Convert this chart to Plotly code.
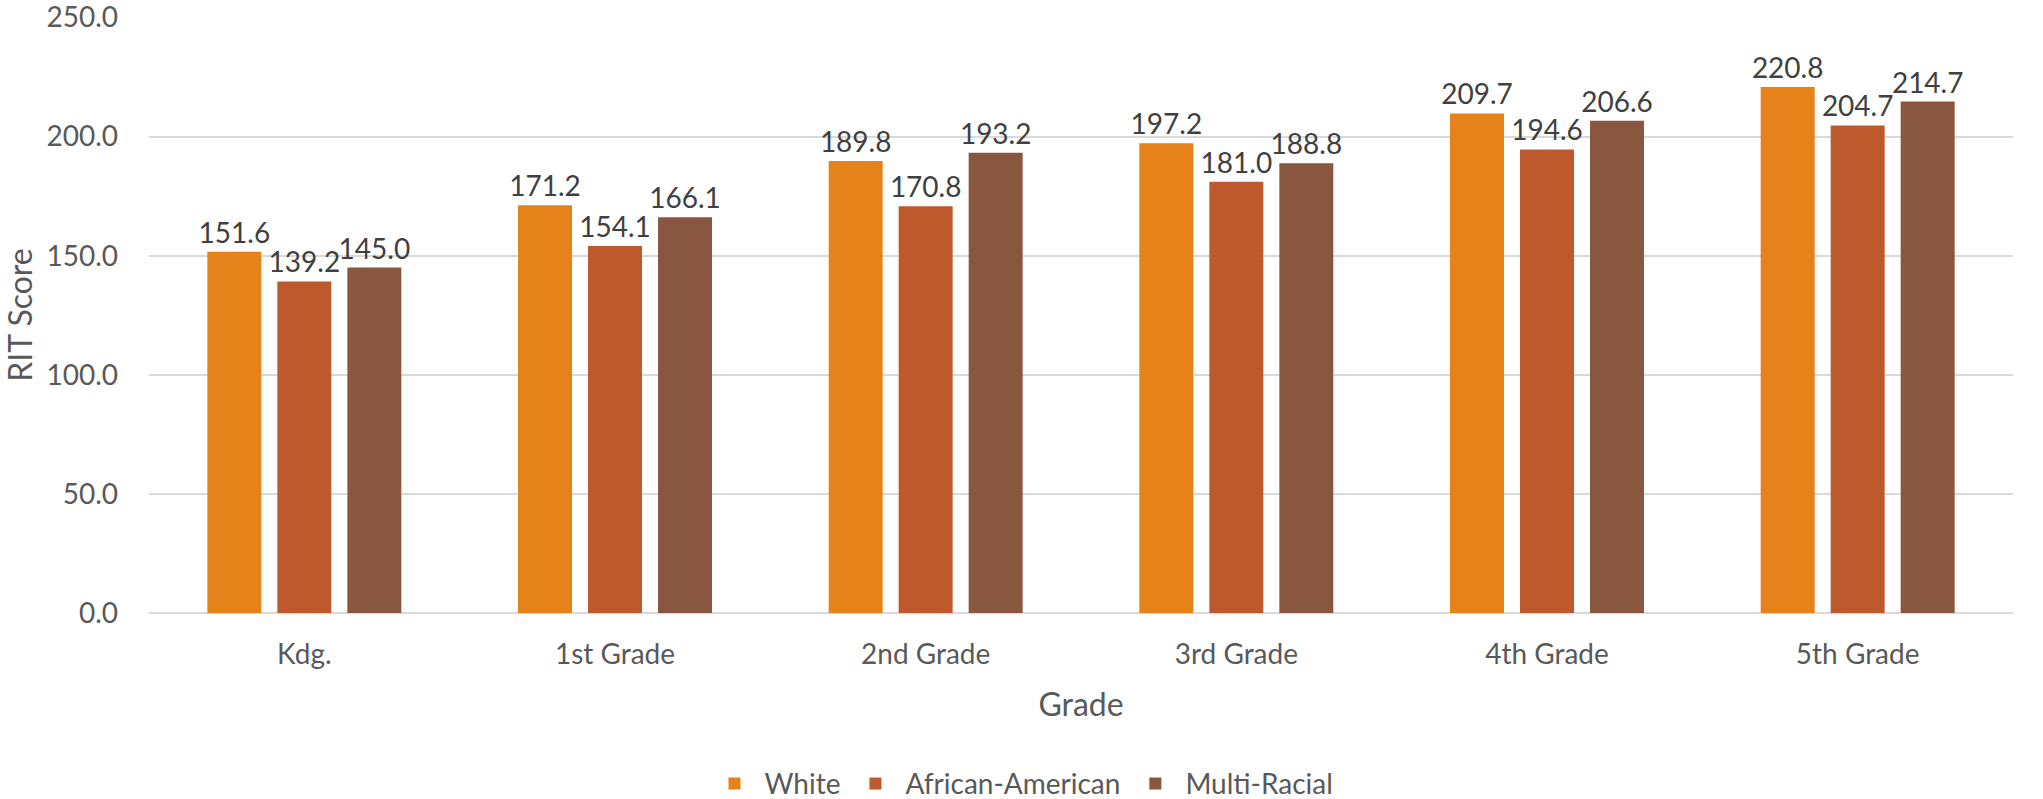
import plotly.graph_objects as go

grades = ["Kdg.", "1st Grade", "2nd Grade", "3rd Grade", "4th Grade", "5th Grade"]
white = [151.6, 171.2, 189.8, 197.2, 209.7, 220.8]
african_american = [139.2, 154.1, 170.8, 181.0, 194.6, 204.7]
multi_racial = [145.0, 166.1, 193.2, 188.8, 206.6, 214.7]
y_ticks = [0, 50, 100, 150, 200, 250]

series = [
    ("White", white, "#E5821A"),
    ("African-American", african_american, "#BE582D"),
    ("Multi-Racial", multi_racial, "#895640"),
]

FONT = "Lato"
fig = go.Figure()
for name, vals, color in series:
    fig.add_trace(go.Bar(
        x=grades, y=vals, name=name,
        marker=dict(color=color, line=dict(width=0)),
        texttemplate="%{y:.1f}", textposition="outside",
        textfont=dict(family=FONT, size=28, color="#404040"),
        cliponaxis=False, constraintext="none",
    ))

fig.update_layout(
    width=2043, height=799,
    paper_bgcolor="white", plot_bgcolor="white",
    margin=dict(l=149, r=30, t=17, b=186, autoexpand=False),
    barmode="group", bargap=0.324, bargroupgap=0.229,
    font=dict(family=FONT, size=28, color="#595959"),
    showlegend=True,
    legend=dict(
        orientation="h", xref="container", yref="container",
        x=0.5, xanchor="center", y=0.019, yanchor="middle",
        font=dict(family=FONT, size=28, color="#595959"),
        itemwidth=50, traceorder="normal",
    ),
    xaxis=dict(
        showgrid=False, showline=False, zeroline=False,
        ticks="", ticklabelstandoff=22,
        tickfont=dict(family=FONT, size=28, color="#595959"),
        title=dict(text="Grade", font=dict(family=FONT, size=32, color="#595959"), standoff=24),
        automargin=False,
    ),
    yaxis=dict(
        range=[0, 250.2], tickvals=y_ticks, tickformat=".1f",
        showgrid=True, gridcolor="#D9D9D9", gridwidth=1.5,
        zeroline=True, zerolinecolor="#D9D9D9", zerolinewidth=1.5,
        showline=False, ticks="", ticklabelstandoff=30,
        ticklabeloverflow="allow",
        tickfont=dict(family=FONT, size=28, color="#595959"),
        title=dict(text="RIT Score", font=dict(family=FONT, size=32, color="#595959"), standoff=15),
        automargin=False,
    ),
)

fig.write_html("out.html", config={"displayModeBar": False},
               post_script="document.body.style.margin='0px';")
